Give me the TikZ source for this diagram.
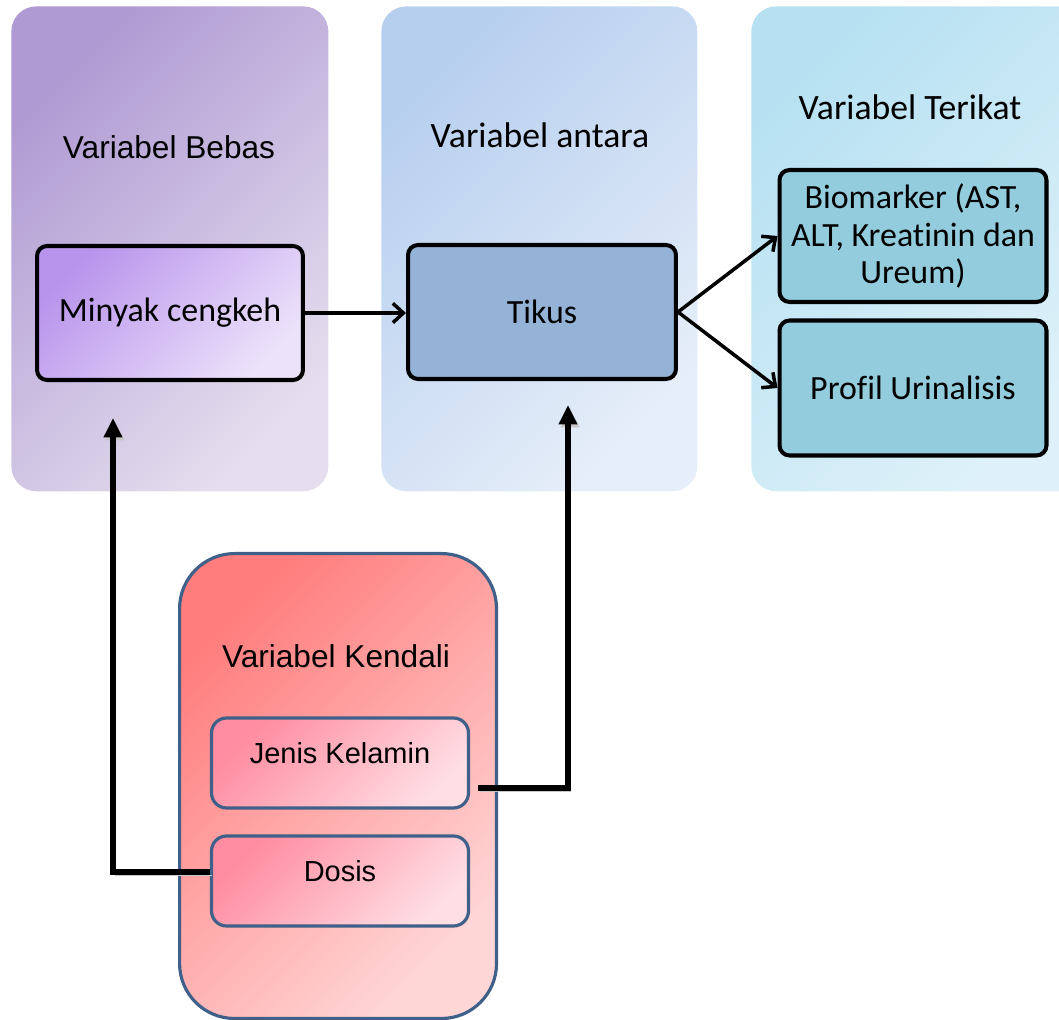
\documentclass[tikz,border=0pt]{standalone}
\usepackage{fontspec}
\usepackage{xcolor}
\usepackage{tikz}
\usetikzlibrary{arrows.meta,positioning,calc}
\newfontfamily\arialfont{Liberation Sans}
\newfontfamily\calibrifont[Ligatures={NoCommon,NoContextual},RawFeature=-clig]{Carlito}
\definecolor{bebasA}{RGB}{176,154,211}
\definecolor{bebasB}{RGB}{228,222,238}
\definecolor{antaraA}{RGB}{183,207,239}
\definecolor{antaraB}{RGB}{230,238,249}
\definecolor{terikatA}{RGB}{183,225,242}
\definecolor{terikatB}{RGB}{222,241,249}
\definecolor{kendaliA}{RGB}{255,125,125}
\definecolor{kendaliB}{RGB}{255,214,214}
\definecolor{kendaliline}{RGB}{63,96,137}
\definecolor{minyakA}{RGB}{185,148,236}
\definecolor{minyakB}{RGB}{236,226,250}
\definecolor{tikusfill}{RGB}{149,179,215}
\definecolor{hasilfill}{RGB}{147,205,221}
\definecolor{pinkA}{RGB}{255,140,160}
\definecolor{pinkB}{RGB}{255,222,228}
\tikzset{
  % panel latar belakang
  panel/.style={
    anchor=north west,
    inner sep=0pt,
    rounded corners=0.5cm
  },
  % judul panel
  arialtitle/.style={font=\arialfont\fontsize{18}{21}\selectfont},
  calititle/.style={font=\calibrifont\fontsize{20.3}{24}\selectfont},
  % kotak hitam
  box/.style={
    draw=black,
    line width=2.3pt,
    rounded corners=0.2cm,
    align=center,
    font=\calibrifont\fontsize{19.3}{21.5}\selectfont
  },
  % kotak variabel kendali
  ctrlbox/.style={
    draw=kendaliline,
    line width=1.8pt,
    rounded corners=0.3cm,
    minimum width=5.14cm,
    minimum height=1.8cm,
    text height=0.45cm,
    text depth=0.45cm,
    top color=pinkA,
    bottom color=pinkB,
    shading angle=45,
    font=\arialfont\fontsize{16.5}{20}\selectfont
  },
  % panah lurus
  barb/.style={-{Straight Barb[length=6pt,width=11pt]}, line width=2pt},
  % panah siku
  elbow/.style={
    -{Triangle[length=11pt,width=10pt]},
    line width=3pt,
    preaction={draw=black!22, transform canvas={xshift=1.2pt,yshift=-1.8pt}}
  },
}

\begin{document}
\begin{tikzpicture}[x=0.02cm,y=-0.02cm]
  \useasboundingbox (0,0) rectangle (1059,1020);

  % panel atas
  \node[panel, minimum width=6.34cm, minimum height=9.7cm,
        top color=bebasA, bottom color=bebasB, shading angle=45] (bebas) at (11,6) {};
  \node[panel, minimum width=6.32cm, minimum height=9.7cm,
        top color=antaraA, bottom color=antaraB, shading angle=45] (antara) at (381,6) {};
  \node[panel, minimum width=6.68cm, minimum height=9.7cm,
        top color=terikatA, bottom color=terikatB, shading angle=45] (terikat) at (751,6) {};

  % panel bawah
  \node[panel, draw=kendaliline, line width=1.8pt, rounded corners=1.1cm,
        minimum width=6.34cm, minimum height=9.3cm,
        top color=kendaliA, bottom color=kendaliB, shading angle=45] (kendali) at (178,552) {};

  % judul
  \node[arialtitle] (tbebas) at (169,147) {Variabel Bebas};
  \node[calititle] (tantara) at (540,135) {Variabel antara};
  \node[calititle] (tterikat) at (910,107) {Variabel Terikat};
  \node[arialtitle] (tkendali) at (336,656) {Variabel Kendali};

  % kotak utama
  \node[box, minimum width=5.32cm, minimum height=2.68cm,
        top color=minyakA, bottom color=minyakB, shading angle=45] (minyak) at (170,313) {Minyak cengkeh};
  \node[box, fill=tikusfill, minimum width=5.36cm, minimum height=2.68cm] (tikus) at (542,312) {Tikus};
  \node[box, fill=hasilfill, minimum width=5.34cm, minimum height=2.64cm] (biomarker) at (913,236)
    {Biomarker (AST,\\ALT, Kreatinin dan\\Ureum)};
  \node[box, fill=hasilfill, minimum width=5.34cm, minimum height=2.7cm] (urin) at (913,388) {Profil Urinalisis};

  % kotak kendali
  \node[ctrlbox] (jenis) at (340,763) {Jenis Kelamin};
  \node[ctrlbox] (dosis) at (340,881) {Dosis};

  % panah
  \draw[barb] (minyak.east) -- (minyak.east -| tikus.west);
  \draw[barb] (tikus.east) -- (biomarker.west);
  \draw[barb] (tikus.east) -- (urin.west);

  \coordinate (bebasin) at (113,418);
  \coordinate (antarain) at (568,405);
  \draw[elbow] ($(dosis.west)+(0,-9)$) -| (bebasin);
  \draw[elbow] ($(jenis.east)+(8,25)$) -| (antarain);
\end{tikzpicture}
\end{document}
